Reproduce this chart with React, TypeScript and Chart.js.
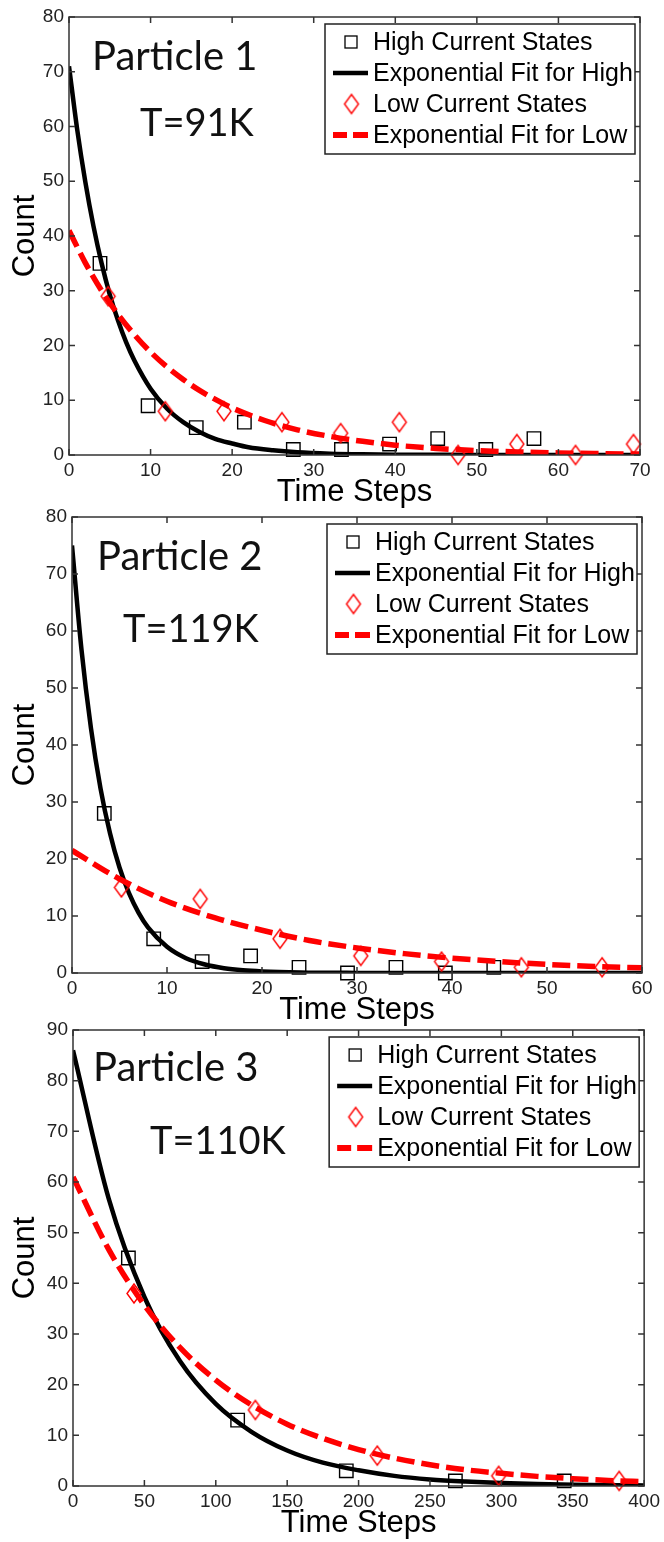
import React, { useEffect, useRef } from 'react';
import { Chart, registerables } from 'chart.js';

Chart.register(...registerables);

// ---------- data ----------
const legendLabels = [
  'High Current States',
  'Exponential Fit for High',
  'Low Current States',
  'Exponential Fit for Low',
];

const panelTitles = ['Particle 1', 'Particle 2', 'Particle 3'];
const panelTemps = ['T=91K', 'T=119K', 'T=110K'];

const xMaxes = [70, 60, 400];
const xSteps = [10, 10, 50];
const yMaxes = [80, 80, 90];
const ySteps = [10, 10, 10];

// Particle 1
const p1HighX = [3.8, 9.7, 15.6, 21.5, 27.5, 33.4, 39.3, 45.2, 51.1, 57.0];
const p1HighY = [35, 9, 5, 6, 1, 1, 2, 3, 1, 3];
const p1LowX = [4.8, 11.8, 19.0, 26.1, 33.3, 40.5, 47.7, 54.9, 62.1, 69.2];
const p1LowY = [29, 8, 8, 6, 4, 6, 0, 2, 0, 2];
const p1HighFitX = [0, 1, 2, 3, 4, 5, 6, 7, 8, 10, 12, 14, 16, 18, 20, 22, 25, 28, 32, 36, 40, 45, 50, 60, 70];
const p1HighFitY = [71, 59.5, 49.9, 41.8, 35.0, 29.3, 24.6, 20.6, 17.3, 12.1, 8.5, 6.0, 4.2, 2.9, 2.1, 1.4, 0.85, 0.5, 0.25, 0.12, 0.06, 0.03, 0.01, 0, 0];
const p1LowFitX = [0, 2, 4, 6, 8, 10, 12, 14, 16, 18, 20, 24, 28, 32, 36, 40, 45, 50, 55, 60, 65, 70];
const p1LowFitY = [41, 35.1, 30.0, 25.7, 22.0, 18.8, 16.1, 13.8, 11.8, 10.1, 8.6, 6.3, 4.6, 3.4, 2.5, 1.8, 1.2, 0.8, 0.56, 0.38, 0.26, 0.17];

// Particle 2
const p2HighX = [3.4, 8.6, 13.7, 18.8, 23.9, 29.0, 34.1, 39.3, 44.4];
const p2HighY = [28, 6, 2, 3, 1, 0, 1, 0, 1];
const p2LowX = [5.2, 13.5, 21.9, 30.4, 38.9, 47.3, 55.8];
const p2LowY = [15, 13, 6, 3, 2, 1, 1];
const p2HighFitX = [0, 1, 2, 3, 4, 5, 6, 7, 8, 10, 12, 14, 16, 18, 20, 24, 30, 40, 50, 60];
const p2HighFitY = [75, 56.7, 42.9, 32.4, 24.5, 18.5, 14.0, 10.6, 8.0, 4.6, 2.6, 1.5, 0.85, 0.48, 0.28, 0.09, 0.02, 0, 0, 0];
const p2LowFitX = [0, 5, 10, 15, 20, 25, 30, 35, 40, 45, 50, 55, 60];
const p2LowFitY = [21.5, 16.5, 12.6, 9.7, 7.5, 5.7, 4.4, 3.4, 2.6, 2.0, 1.5, 1.15, 0.9];

// Particle 3
const p3HighX = [38.8, 115.3, 191.4, 267.8, 344.0];
const p3HighY = [45, 13, 3, 1, 1];
const p3LowX = [42.7, 127.7, 213.1, 298.1, 382.5];
const p3LowY = [38, 15, 6, 2, 1];
const p3FitX = [0, 25, 50, 75, 100, 125, 150, 175, 200, 225, 250, 275, 300, 325, 350, 375, 400];
const p3HighFitY = [86, 56.7, 37.3, 24.6, 16.2, 10.7, 7.0, 4.6, 3.1, 2.0, 1.3, 0.87, 0.57, 0.38, 0.25, 0.16, 0.11];
const p3LowFitY = [61, 46.7, 35.7, 27.3, 20.9, 16.0, 12.2, 9.4, 7.2, 5.5, 4.2, 3.2, 2.5, 1.9, 1.45, 1.1, 0.85];

const highXs = [p1HighX, p2HighX, p3HighX];
const highYs = [p1HighY, p2HighY, p3HighY];
const lowXs = [p1LowX, p2LowX, p3LowX];
const lowYs = [p1LowY, p2LowY, p3LowY];
const highFitXs = [p1HighFitX, p2HighFitX, p3FitX];
const highFitYs = [p1HighFitY, p2HighFitY, p3HighFitY];
const lowFitXs = [p1LowFitX, p2LowFitX, p3FitX];
const lowFitYs = [p1LowFitY, p2LowFitY, p3LowFitY];

// ---------- layout (page pixels) ----------
const W = 664;
const geoms = [
  { top: 0, height: 520, left: 69, right: 640, plotTop: 17, plotBottom: 455, xTitleY: 492, partX: 92, partY: 57, tempX: 140, tempY: 124 },
  { top: 495, height: 540, left: 72, right: 642, plotTop: 517, plotBottom: 973, xTitleY: 1010, partX: 97, partY: 557, tempX: 123, tempY: 630 },
  { top: 1005, height: 537, left: 73, right: 646, plotTop: 1030, plotBottom: 1486, xTitleY: 1523, partX: 93, partY: 1068, tempX: 150, tempY: 1142 },
];

const SANS = "'Liberation Sans', Arial, Helvetica, sans-serif";
const TITLE_SIZE = 31;

function zip(xs: number[], ys: number[]) {
  return xs.map((x, i) => ({ x, y: ys[i] }));
}

function makeDiamond(w: number, h: number, color: string, lw: number) {
  const c = document.createElement('canvas');
  c.width = w + 4;
  c.height = h + 4;
  const g = c.getContext('2d')!;
  g.strokeStyle = color;
  g.lineWidth = lw;
  g.beginPath();
  g.moveTo(c.width / 2, 2);
  g.lineTo(c.width - 2, c.height / 2);
  g.lineTo(c.width / 2, c.height - 2);
  g.lineTo(2, c.height / 2);
  g.closePath();
  g.stroke();
  return c;
}

function buildChart(canvas: HTMLCanvasElement, i: number) {
  const g = geoms[i];
  const H = g.height;
  const lh = TITLE_SIZE * 1.2;
  const xTitlePad = g.top + H - g.xTitleY - lh / 2;
  const diamond = makeDiamond(14, 19, '#ff0000', 1.4);

  const decor = {
    id: 'decor' + i,
    afterDatasetsDraw(chart: any) {
      const { ctx, chartArea: a } = chart;
      const xs = chart.scales.x;
      const ys = chart.scales.y;
      ctx.save();
      // box + inward ticks
      ctx.strokeStyle = '#333';
      ctx.lineWidth = 1.5;
      ctx.strokeRect(a.left, a.top, a.right - a.left, a.bottom - a.top);
      ctx.beginPath();
      const tl = 6;
      xs.ticks.forEach((t: any) => {
        const px = xs.getPixelForValue(t.value);
        ctx.moveTo(px, a.bottom);
        ctx.lineTo(px, a.bottom - tl);
        ctx.moveTo(px, a.top);
        ctx.lineTo(px, a.top + tl);
      });
      ys.ticks.forEach((t: any) => {
        const py = ys.getPixelForValue(t.value);
        ctx.moveTo(a.left, py);
        ctx.lineTo(a.left + tl, py);
        ctx.moveTo(a.right, py);
        ctx.lineTo(a.right - tl, py);
      });
      ctx.stroke();

      // legend
      const bw = 310;
      const bh = 130;
      const bx = a.right - 5 - bw;
      const by = a.top + 7;
      ctx.fillStyle = '#fff';
      ctx.fillRect(bx, by, bw, bh);
      ctx.strokeStyle = '#222';
      ctx.lineWidth = 1.5;
      ctx.strokeRect(bx, by, bw, bh);
      const rows = [18, 49, 80, 111];
      const mx = bx + 26;
      // square
      ctx.strokeStyle = '#000';
      ctx.lineWidth = 1.3;
      ctx.strokeRect(mx - 6, by + rows[0] - 6, 12, 12);
      // solid line
      ctx.beginPath();
      ctx.lineWidth = 4.5;
      ctx.moveTo(bx + 8, by + rows[1]);
      ctx.lineTo(bx + 43, by + rows[1]);
      ctx.stroke();
      // diamond
      ctx.drawImage(diamond, mx - diamond.width / 2 + 0.5, by + rows[2] - diamond.height / 2);
      // dashed
      ctx.fillStyle = '#ff0000';
      ctx.fillRect(bx + 8, by + rows[3] - 3, 14, 6);
      ctx.fillRect(bx + 28, by + rows[3] - 3, 15, 6);
      // texts
      ctx.fillStyle = '#000';
      ctx.font = `25px ${SANS}`;
      ctx.textBaseline = 'middle';
      ctx.textAlign = 'left';
      chart.data.datasets
        .slice()
        .reverse()
        .forEach((d: any, k: number) => {
          ctx.fillText(d.label, bx + 48, by + rows[k] + 1);
        });

      // panel annotations
      ctx.fillStyle = '#111';
      ctx.font = "40px Lato, 'Open Sans', sans-serif";
      ctx.fillText(panelTitles[i], g.partX, g.partY - g.top);
      ctx.font = "38px Lato, 'Open Sans', sans-serif";
      ctx.fillText(panelTemps[i], g.tempX, g.tempY - g.top);
      ctx.restore();
    },
  };

  const tickFont = { family: SANS, size: 19 };
  return new Chart(canvas, {
    type: 'scatter',
    data: {
      datasets: [
        {
          type: 'line',
          label: legendLabels[3],
          data: zip(lowFitXs[i], lowFitYs[i]),
          borderColor: '#ff0000',
          borderWidth: 5.5,
          borderDash: [18, 7],
          pointRadius: 0,
          showLine: true,
          fill: false,
          cubicInterpolationMode: 'monotone',
        } as any,
        {
          type: 'scatter',
          label: legendLabels[2],
          data: zip(lowXs[i], lowYs[i]),
          pointStyle: diamond,
          pointRadius: 9,
          borderColor: '#ff0000',
          backgroundColor: 'transparent',
          clip: false,
        } as any,
        {
          type: 'line',
          label: legendLabels[1],
          data: zip(highFitXs[i], highFitYs[i]),
          borderColor: '#000',
          borderWidth: 4.5,
          pointRadius: 0,
          showLine: true,
          fill: false,
          cubicInterpolationMode: 'monotone',
        } as any,
        {
          type: 'scatter',
          label: legendLabels[0],
          data: zip(highXs[i], highYs[i]),
          pointStyle: 'rect',
          pointRadius: 9.5,
          borderColor: '#000',
          borderWidth: 1.4,
          backgroundColor: 'transparent',
          clip: false,
        } as any,
      ],
    },
    options: {
      responsive: false,
      animation: false,
      devicePixelRatio: 1,
      events: [],
      layout: { padding: { left: 0, right: W - g.right, top: g.plotTop - g.top, bottom: 0 } },
      plugins: { legend: { display: false }, tooltip: { enabled: false } },
      scales: {
        x: {
          type: 'linear',
          min: 0,
          max: xMaxes[i],
          ticks: { stepSize: xSteps[i], font: tickFont, color: '#222', padding: 4, maxRotation: 0, autoSkip: false },
          grid: { display: false, drawTicks: false },
          border: { display: false },
          title: {
            display: true,
            text: 'Time Steps',
            color: '#000',
            font: { family: SANS, size: TITLE_SIZE },
            padding: { top: 0, bottom: xTitlePad },
          },
          afterFit: (s: any) => {
            s.height = g.top + H - g.plotBottom;
          },
        },
        y: {
          type: 'linear',
          min: 0,
          max: yMaxes[i],
          ticks: { stepSize: ySteps[i], font: tickFont, color: '#222', padding: 5, autoSkip: false },
          grid: { display: false, drawTicks: false },
          border: { display: false },
          title: {
            display: true,
            text: 'Count',
            color: '#000',
            font: { family: SANS, size: TITLE_SIZE },
            padding: { top: 25 - lh / 2, bottom: 0 },
          },
          afterFit: (s: any) => {
            s.width = g.left;
          },
        },
      },
    } as any,
    plugins: [decor],
  });
}

function Panel({ index }: { index: number }) {
  const ref = useRef<HTMLCanvasElement | null>(null);
  useEffect(() => {
    if (!ref.current) return;
    const chart = buildChart(ref.current, index);
    return () => chart.destroy();
  }, [index]);
  const g = geoms[index];
  return (
    <canvas
      ref={ref}
      width={W}
      height={g.height}
      style={{ position: 'absolute', left: 0, top: g.top, width: W, height: g.height }}
    />
  );
}

export default function App() {
  return (
    <div style={{ position: 'absolute', left: 0, top: 0, width: W, height: 1542, background: '#fff' }}>
      <Panel index={0} />
      <Panel index={1} />
      <Panel index={2} />
    </div>
  );
}
